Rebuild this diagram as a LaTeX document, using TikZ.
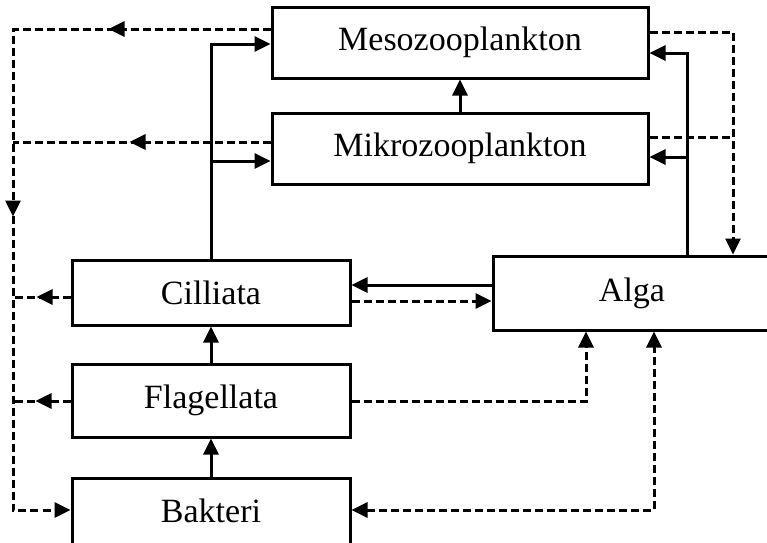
\documentclass[tikz,border=0pt]{standalone}
\usepackage{fontspec}
\setmainfont{Liberation Serif}
\usetikzlibrary{arrows.meta,decorations.markings}
\tikzset{
    every node/.style={rectangle, draw, line width=3pt, inner sep=0pt,
    	font=\fontsize{34}{40}\selectfont}
}
\tikzset{
    >={Triangle[length=16pt,width=15pt]},
    line/.style={line width=3pt},
    flow/.style={line, ->},
    dline/.style={line, dash pattern=on 8pt off 4pt},
    back/.style={dline, ->}
}
\tikzset{
    tipat/.style={postaction={decorate}, decoration={markings,
    	mark=at position #1 with {\arrow{>}}}}
}

\begin{document}
\begin{tikzpicture}[x=1pt,y=-1pt]
	\useasboundingbox (0,0) rectangle (767,542);
	\clip (0,0) rectangle (767,542);

	\node (meso) [minimum width=376pt, minimum height=71pt] at (460,42.5) {Mesozooplankton};
	\node (mikro) [minimum width=376pt, minimum height=71pt] at (460,148.5) {Mikrozooplankton};
	\node (cil) [minimum width=278pt, minimum height=65pt] at (211,292.5) {Cilliata};
	\node (flag) [minimum width=278pt, minimum height=73pt] at (211,400.5) {Flagellata};
	\node (bak) [minimum width=278pt, minimum height=66pt] at (211,511) {Bakteri};
	\node (alga) [minimum width=278pt, minimum height=74pt] at (632,293) {Alga};

	% grazing
	\draw (mikro) edge [flow] (meso);
	\draw (flag) edge [flow] (cil);
	\draw (bak) edge [flow] (flag);
	\draw (alga.west |- 0,285) edge [flow] (cil.east |- 0,285);
	\draw[flow] (cil.north) |- (meso.west |- 0,44);
	\draw[flow] (cil.north |- 0,161) -- (mikro.west |- 0,161);
	\draw[flow] (alga.north -| 687,0) |- (meso.east |- 0,53);
	\draw[flow] (687,157) -- (mikro.east |- 0,157);

	% excretion
	\draw[back, postaction={decorate}, decoration={markings,
		mark=at position 162pt with {\arrow{>}},
		mark=at position 445pt with {\arrow{>}}}]
		(meso.west |- 0,29) -| (13,510) -- (bak.west |- 0,510);
	\draw[dline, tipat=141pt] (mikro.west |- 0,142) -- (13,142);
	\draw[dline, tipat=34pt] (cil.west |- 0,297) -- (13,297);
	\draw[dline, tipat=35pt] (flag.west |- 0,401) -- (13,401);
	\draw[back] (meso.east |- 0,32) -| (alga.north -| 733,0);
	\draw[dline] (mikro.east |- 0,137) -- (733,137);
	\draw (cil.east |- 0,301) edge [back] (alga.west |- 0,301);
	\draw[back] (flag.east |- 0,401) -| (alga.south -| 586,0);
	\draw[dline, <->] (bak.east |- 0,510) -| (alga.south -| 654,0);
\end{tikzpicture}
\end{document}
